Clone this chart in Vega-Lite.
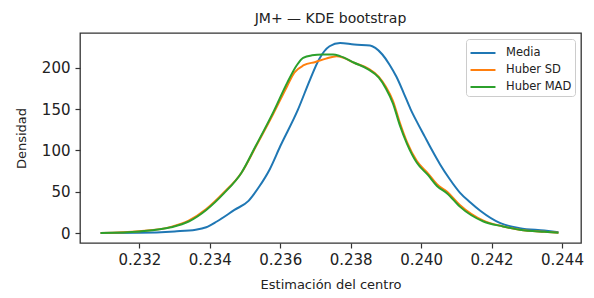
{
  "$schema": "https://vega.github.io/schema/vega-lite/v6.json",
  "width": 501,
  "height": 210,
  "autosize": "none",
  "padding": {"left": 80, "top": 33, "right": 13, "bottom": 55},
  "background": "white",
  "title": {"text": "JM+ — KDE bootstrap", "fontSize": 14, "font": "DejaVu Sans", "fontWeight": "normal", "color": "#222", "offset": 7, "anchor": "middle"},
  "config": {
    "font": "DejaVu Sans",
    "view": {"stroke": "#333", "strokeWidth": 1.3},
    "axis": {"domain": false, "grid": false, "tickColor": "#333", "tickSize": 5, "tickWidth": 1.2, "labelFont": "DejaVu Sans", "labelFontSize": 15, "labelColor": "#222", "titleFont": "DejaVu Sans", "titleFontSize": 13, "titleFontWeight": "normal", "titleColor": "#222"},
    "legend": {"labelFont": "DejaVu Sans"}
  },
  "data": {"values": [
    {"s": "Media", "x": 0.2309, "y": 0},
    {"s": "Media", "x": 0.2320, "y": 0.3},
    {"s": "Media", "x": 0.2330, "y": 2},
    {"s": "Media", "x": 0.2336, "y": 4},
    {"s": "Media", "x": 0.2339, "y": 7},
    {"s": "Media", "x": 0.2342, "y": 14},
    {"s": "Media", "x": 0.2347, "y": 28},
    {"s": "Media", "x": 0.2351, "y": 39},
    {"s": "Media", "x": 0.2354, "y": 56},
    {"s": "Media", "x": 0.2357, "y": 77},
    {"s": "Media", "x": 0.2360, "y": 105},
    {"s": "Media", "x": 0.2365, "y": 149},
    {"s": "Media", "x": 0.23685, "y": 186},
    {"s": "Media", "x": 0.2371, "y": 210},
    {"s": "Media", "x": 0.2374, "y": 226},
    {"s": "Media", "x": 0.2377, "y": 230},
    {"s": "Media", "x": 0.2381, "y": 228},
    {"s": "Media", "x": 0.23855, "y": 227},
    {"s": "Media", "x": 0.2387, "y": 224},
    {"s": "Media", "x": 0.2389, "y": 216},
    {"s": "Media", "x": 0.2391, "y": 204},
    {"s": "Media", "x": 0.2393, "y": 189},
    {"s": "Media", "x": 0.2395, "y": 170},
    {"s": "Media", "x": 0.2397, "y": 150},
    {"s": "Media", "x": 0.2399, "y": 133},
    {"s": "Media", "x": 0.2401, "y": 117},
    {"s": "Media", "x": 0.2403, "y": 101},
    {"s": "Media", "x": 0.24054, "y": 83},
    {"s": "Media", "x": 0.2408, "y": 66},
    {"s": "Media", "x": 0.2411, "y": 49},
    {"s": "Media", "x": 0.2414, "y": 37},
    {"s": "Media", "x": 0.24168, "y": 27},
    {"s": "Media", "x": 0.24225, "y": 12},
    {"s": "Media", "x": 0.2428, "y": 6},
    {"s": "Media", "x": 0.2435, "y": 3},
    {"s": "Media", "x": 0.2439, "y": 1},
    {"s": "Huber SD", "x": 0.2309, "y": 0},
    {"s": "Huber SD", "x": 0.2320, "y": 2.2},
    {"s": "Huber SD", "x": 0.2329, "y": 7.5},
    {"s": "Huber SD", "x": 0.2334, "y": 15},
    {"s": "Huber SD", "x": 0.2339, "y": 29},
    {"s": "Huber SD", "x": 0.2344, "y": 49},
    {"s": "Huber SD", "x": 0.2349, "y": 73},
    {"s": "Huber SD", "x": 0.2353, "y": 104},
    {"s": "Huber SD", "x": 0.2358, "y": 144},
    {"s": "Huber SD", "x": 0.2362, "y": 178},
    {"s": "Huber SD", "x": 0.2364, "y": 194},
    {"s": "Huber SD", "x": 0.23667, "y": 203},
    {"s": "Huber SD", "x": 0.2370, "y": 207},
    {"s": "Huber SD", "x": 0.2373, "y": 211},
    {"s": "Huber SD", "x": 0.2376, "y": 214},
    {"s": "Huber SD", "x": 0.2378, "y": 212},
    {"s": "Huber SD", "x": 0.2381, "y": 206},
    {"s": "Huber SD", "x": 0.2385, "y": 199},
    {"s": "Huber SD", "x": 0.2388, "y": 189},
    {"s": "Huber SD", "x": 0.2390, "y": 177},
    {"s": "Huber SD", "x": 0.2392, "y": 160},
    {"s": "Huber SD", "x": 0.2394, "y": 133},
    {"s": "Huber SD", "x": 0.2396, "y": 110},
    {"s": "Huber SD", "x": 0.23988, "y": 87},
    {"s": "Huber SD", "x": 0.2402, "y": 72},
    {"s": "Huber SD", "x": 0.24045, "y": 59},
    {"s": "Huber SD", "x": 0.24074, "y": 50},
    {"s": "Huber SD", "x": 0.2411, "y": 34},
    {"s": "Huber SD", "x": 0.24177, "y": 15},
    {"s": "Huber SD", "x": 0.24233, "y": 8},
    {"s": "Huber SD", "x": 0.2428, "y": 4},
    {"s": "Huber SD", "x": 0.2435, "y": 1.5},
    {"s": "Huber SD", "x": 0.2439, "y": 0.5},
    {"s": "Huber MAD", "x": 0.2309, "y": 0},
    {"s": "Huber MAD", "x": 0.2320, "y": 2},
    {"s": "Huber MAD", "x": 0.2329, "y": 7},
    {"s": "Huber MAD", "x": 0.2334, "y": 14},
    {"s": "Huber MAD", "x": 0.2339, "y": 28},
    {"s": "Huber MAD", "x": 0.2344, "y": 48},
    {"s": "Huber MAD", "x": 0.2349, "y": 73},
    {"s": "Huber MAD", "x": 0.2353, "y": 105},
    {"s": "Huber MAD", "x": 0.2358, "y": 146},
    {"s": "Huber MAD", "x": 0.2362, "y": 182},
    {"s": "Huber MAD", "x": 0.23647, "y": 203},
    {"s": "Huber MAD", "x": 0.23665, "y": 212},
    {"s": "Huber MAD", "x": 0.2369, "y": 215},
    {"s": "Huber MAD", "x": 0.2372, "y": 216},
    {"s": "Huber MAD", "x": 0.2375, "y": 216},
    {"s": "Huber MAD", "x": 0.2377, "y": 214},
    {"s": "Huber MAD", "x": 0.2381, "y": 206},
    {"s": "Huber MAD", "x": 0.2385, "y": 198},
    {"s": "Huber MAD", "x": 0.2388, "y": 188},
    {"s": "Huber MAD", "x": 0.2390, "y": 175},
    {"s": "Huber MAD", "x": 0.2392, "y": 157},
    {"s": "Huber MAD", "x": 0.2394, "y": 130},
    {"s": "Huber MAD", "x": 0.2396, "y": 108},
    {"s": "Huber MAD", "x": 0.23988, "y": 85},
    {"s": "Huber MAD", "x": 0.2402, "y": 70},
    {"s": "Huber MAD", "x": 0.24045, "y": 57},
    {"s": "Huber MAD", "x": 0.24074, "y": 48},
    {"s": "Huber MAD", "x": 0.2411, "y": 32},
    {"s": "Huber MAD", "x": 0.24177, "y": 14},
    {"s": "Huber MAD", "x": 0.24233, "y": 8},
    {"s": "Huber MAD", "x": 0.2428, "y": 4},
    {"s": "Huber MAD", "x": 0.2435, "y": 1.5},
    {"s": "Huber MAD", "x": 0.2439, "y": 0.5}
  ]},
  "mark": {"type": "line", "strokeWidth": 2, "interpolate": "monotone"},
  "encoding": {
    "x": {"field": "x", "type": "quantitative", "title": "Estimación del centro",
      "scale": {"domain": [0.230315, 0.24454], "nice": false, "zero": false},
      "axis": {"values": [0.232, 0.234, 0.236, 0.238, 0.240, 0.242, 0.244], "format": ".3f", "labelPadding": 4, "titlePadding": 11, "labelFlush": false}},
    "y": {"field": "y", "type": "quantitative", "title": "Densidad",
      "scale": {"domain": [-12, 242], "nice": false, "zero": false},
      "axis": {"values": [0, 50, 100, 150, 200], "labelPadding": 5, "titlePadding": 13, "labelFlush": false}},
    "color": {"field": "s", "type": "nominal", "title": null,
      "scale": {"domain": ["Media", "Huber SD", "Huber MAD"], "range": ["#1f77b4", "#ff7f0e", "#2ca02c"]},
      "legend": {"orient": "top-right", "offset": 6, "padding": 3, "strokeColor": "#cccccc", "fillColor": "white", "cornerRadius": 3, "symbolType": "M-1.28,0H1.28", "symbolSize": 380, "symbolStrokeWidth": 2, "symbolOffset": 3, "labelFontSize": 11.5, "labelColor": "#222", "labelOffset": 12, "rowPadding": 0}
    },
    "order": {"field": "x", "type": "quantitative"}
  }
}
